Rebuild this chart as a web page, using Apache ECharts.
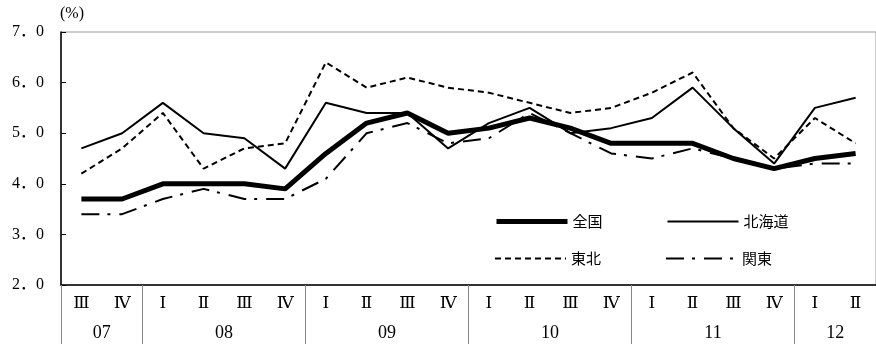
<!DOCTYPE html>
<html>
<head>
<meta charset="utf-8">
<script src="https://cdn.jsdelivr.net/npm/echarts@6/dist/echarts.min.js"></script>
<style>
html,body{margin:0;padding:0;background:#fff;}
#chart{width:876px;height:344px;}
</style>
</head>
<body>
<div id="chart"></div>
<script>
// ---- data ----
const quarterLabels = ['Ⅲ','Ⅳ','Ⅰ','Ⅱ','Ⅲ','Ⅳ','Ⅰ','Ⅱ','Ⅲ','Ⅳ','Ⅰ','Ⅱ','Ⅲ','Ⅳ','Ⅰ','Ⅱ','Ⅲ','Ⅳ','Ⅰ','Ⅱ'];
const yearLabels = ['07','08','09','10','11','12'];
const yearQuarterCounts = [2,4,4,4,4,2];
const seriesNames = ['全国','北海道','東北','関東'];
const zenkoku  = [3.7,3.7,4.0,4.0,4.0,3.9,4.6,5.2,5.4,5.0,5.1,5.3,5.1,4.8,4.8,4.8,4.5,4.3,4.5,4.6];
const hokkaido = [4.7,5.0,5.6,5.0,4.9,4.3,5.6,5.4,5.4,4.7,5.2,5.5,5.0,5.1,5.3,5.9,5.1,4.4,5.5,5.7];
const tohoku   = [4.2,4.7,5.4,4.3,4.7,4.8,6.4,5.9,6.1,5.9,5.8,5.6,5.4,5.5,5.8,6.2,5.1,4.5,5.3,4.8];
const kanto    = [3.4,3.4,3.7,3.9,3.7,3.7,4.1,5.0,5.2,4.8,4.9,5.4,5.0,4.6,4.5,4.7,4.5,4.3,4.4,4.4];
const yTicks = [2,3,4,5,6,7];

// half-quarter slots for the year row (boundaries and group centres)
const nSlots = quarterLabels.length * 2 + 1;
const slotLabels = new Array(nSlots).fill('');
const boundarySlots = new Set([0]);
let acc = 0;
yearLabels.forEach((y, i) => {
  const n = yearQuarterCounts[i];
  slotLabels[acc * 2 + n] = y;
  acc += n;
  boundarySlots.add(acc * 2);
});
const slotCats = slotLabels.map((l, i) => 's' + i);

const serif = "'Liberation Serif','DejaVu Serif','Noto Sans CJK JP',serif";
const legendText = {fontFamily: "'Noto Sans CJK JP',sans-serif", fontSize: 15, color: '#000'};
const styles = {
  '全国':   {color: '#000', width: 5},
  '北海道': {color: '#000', width: 2},
  '東北':   {color: '#000', width: 2, type: [6, 4]},
  '関東':   {color: '#000', width: 2, type: [18, 8, 3, 9]}
};
const legendItem = (n) => ({name: n, lineStyle: Object.assign({}, styles[n]), itemStyle: {opacity: 0}});

const chart = echarts.init(document.getElementById('chart'), null, {renderer:'canvas'});
chart.setOption({
  animation: false,
  backgroundColor: '#fff',
  title: {
    text: '(%)', left: 60, top: 6, padding: 0,
    textStyle: {fontFamily: serif, fontSize: 16, fontWeight: 'normal', color: '#000'}
  },
  grid: {left: 61, top: 32, width: 820, height: 253, show: true, borderColor: '#999', borderWidth: 1, backgroundColor: 'transparent'},
  legend: [
    {data: [legendItem('全国'), legendItem('北海道')], left: 494, top: 214, padding: 0,
     itemWidth: 71, itemHeight: 14, itemGap: 64, itemStyle: {opacity: 0}, textStyle: legendText},
    {data: [legendItem('東北'), legendItem('関東')], left: 494, top: 251, padding: 0,
     itemWidth: 71, itemHeight: 14, itemGap: 64, itemStyle: {opacity: 0}, textStyle: legendText}
  ],
  xAxis: [
    {type: 'category', data: quarterLabels, boundaryGap: true, position: 'bottom',
     axisLine: {show: true, lineStyle: {color: '#000', width: 1.5}},
     axisTick: {show: false},
     axisLabel: {interval: 0, margin: 10, fontFamily: serif, fontSize: 17, color: '#000'}},
    {type: 'category', data: slotCats, boundaryGap: false, position: 'bottom', gridIndex: 0,
     axisLine: {show: false},
     axisTick: {show: true, length: 62, interval: (i) => boundarySlots.has(i), lineStyle: {color: '#888', width: 1}},
     axisLabel: {interval: (i) => slotLabels[i] !== '', formatter: (v, i) => slotLabels[i], margin: 39,
                 fontFamily: serif, fontSize: 18, color: '#000'}}
  ],
  yAxis: {
    type: 'value', min: yTicks[0], max: yTicks[yTicks.length - 1], interval: 1,
    axisLine: {show: true, lineStyle: {color: '#000', width: 1.5}},
    axisTick: {show: true, inside: true, length: 5, lineStyle: {color: '#000'}},
    splitLine: {show: false},
    axisLabel: {margin: 17, fontFamily: serif, fontSize: 16, color: '#000',
                formatter: (v) => v.toFixed(1).replace('.', '．')}
  },
  series: [
    {name: seriesNames[0], type: 'line', data: zenkoku, symbol: 'none', z: 5,
     lineStyle: styles['全国'], itemStyle: {color: '#000'}},
    {name: seriesNames[1], type: 'line', data: hokkaido, symbol: 'none',
     lineStyle: styles['北海道'], itemStyle: {color: '#000'}},
    {name: seriesNames[2], type: 'line', data: tohoku, symbol: 'none',
     lineStyle: styles['東北'], itemStyle: {color: '#000'}},
    {name: seriesNames[3], type: 'line', data: kanto, symbol: 'none',
     lineStyle: styles['関東'], itemStyle: {color: '#000'}}
  ]
});
</script>
</body>
</html>
